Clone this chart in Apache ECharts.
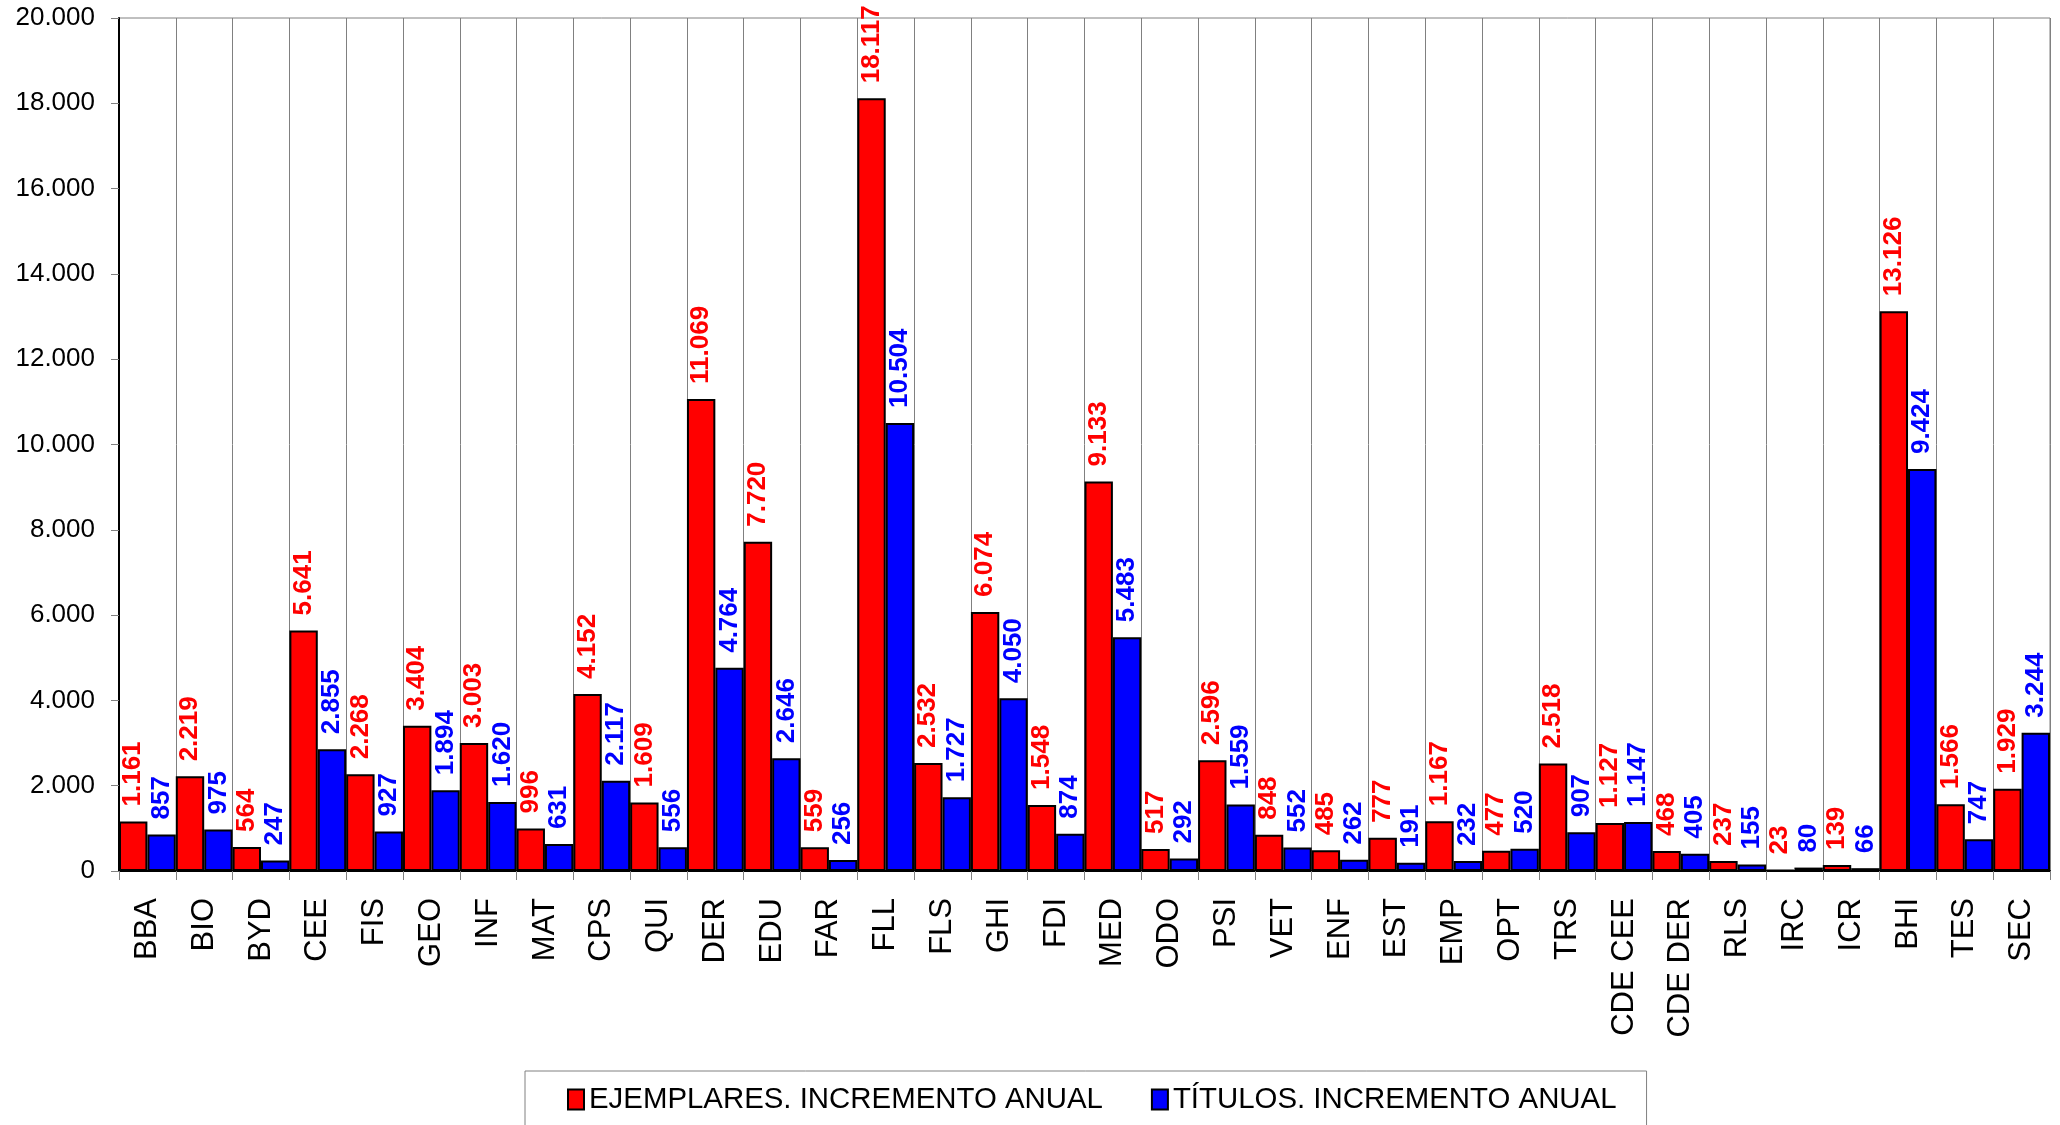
<!DOCTYPE html>
<html>
<head>
<meta charset="utf-8">
<script src="https://cdn.jsdelivr.net/npm/echarts@6/dist/echarts.min.js"></script>
<style>
html,body{margin:0;padding:0;background:#fff;}
#chart{width:2060px;height:1125px;}
</style>
</head>
<body>
<div id="chart"></div>
<script>
const categories = ['BBA','BIO','BYD','CEE','FIS','GEO','INF','MAT','CPS','QUI','DER','EDU','FAR','FLL','FLS','GHI','FDI','MED','ODO','PSI','VET','ENF','EST','EMP','OPT','TRS','CDE CEE','CDE DER','RLS','IRC','ICR','BHI','TES','SEC'];
const ejemplares = [1161,2219,564,5641,2268,3404,3003,996,4152,1609,11069,7720,559,18117,2532,6074,1548,9133,517,2596,848,485,777,1167,477,2518,1127,468,237,23,139,13126,1566,1929];
const titulos = [857,975,247,2855,927,1894,1620,631,2117,556,4764,2646,256,10504,1727,4050,874,5483,292,1559,552,262,191,232,520,907,1147,405,155,80,66,9424,747,3244];
const seriesNames = ['EJEMPLARES. INCREMENTO ANUAL','TÍTULOS. INCREMENTO ANUAL'];
const yTicks = {min:0, max:20000, interval:2000};

const FONT = "'Liberation Sans', Arial, sans-serif";
function fmt(v){ return String(v).replace(/\B(?=(\d{3})+(?!\d))/g, '.'); }

const chart = echarts.init(document.getElementById('chart'));
function barSeries(name, data, color){
  return {
    name: name,
    type: 'bar',
    data: data,
    barGap: '0%',
    barCategoryGap: '0%',
    itemStyle: {color: color, borderColor: '#000', borderWidth: 2},
    label: {
      show: true,
      position: 'top',
      rotate: 90,
      align: 'left',
      verticalAlign: 'middle',
      distance: 15,
      color: color,
      fontFamily: FONT,
      fontWeight: 'bold',
      fontSize: 26,
      formatter: p => fmt(p.value)
    }
  };
}
chart.setOption({
  animation: false,
  backgroundColor: '#fff',
  textStyle: {fontFamily: FONT},
  grid: {left: 119, right: 10, top: 18, bottom: 254, show: true, borderColor: '#808080', borderWidth: 1, backgroundColor: '#fff'},
  legend: {
    left: 525, top: 1071,
    padding: [14, 30, 30, 42],
    borderColor: '#808080', borderWidth: 1,
    icon: 'rect',
    itemWidth: 16, itemHeight: 20, itemGap: 48,
    textStyle: {fontSize: 29.4, color: '#000', fontFamily: FONT},
    data: seriesNames
  },
  xAxis: {
    type: 'category',
    data: categories,
    axisLine: {lineStyle: {color: '#000', width: 2}},
    axisTick: {show: true, interval: 0, length: 9, lineStyle: {color: '#808080'}},
    splitLine: {show: true, interval: 0, lineStyle: {color: '#808080', width: 1}},
    axisLabel: {interval: 0, rotate: 90, margin: 27, fontSize: 31, color: '#000', fontFamily: FONT}
  },
  yAxis: {
    type: 'value',
    min: yTicks.min, max: yTicks.max, interval: yTicks.interval,
    axisLine: {show: true, lineStyle: {color: '#000', width: 2}},
    axisTick: {show: true, length: 8, lineStyle: {color: '#808080'}},
    splitLine: {show: false},
    axisLabel: {margin: 24, fontSize: 26, color: '#000', fontFamily: FONT, formatter: v => fmt(v)}
  },
  series: [
    barSeries(seriesNames[0], ejemplares, '#FF0000'),
    barSeries(seriesNames[1], titulos, '#0000FF')
  ]
});
</script>
</body>
</html>
